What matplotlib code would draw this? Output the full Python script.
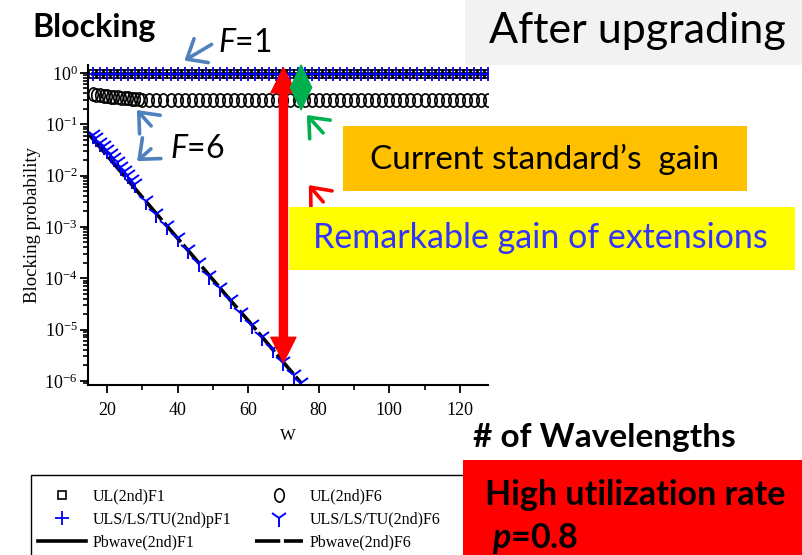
import numpy as np
import matplotlib
matplotlib.use('Agg')
import matplotlib.pyplot as plt
from matplotlib.markers import MarkerStyle
from matplotlib.transforms import Affine2D
from matplotlib.patches import Rectangle, Polygon, FancyArrowPatch
from matplotlib.ticker import LogLocator, NullFormatter

plt.rcParams['font.family'] = 'Liberation Serif'
plt.rcParams['mathtext.fontset'] = 'custom'
plt.rcParams['mathtext.rm'] = 'Liberation Serif'

# wavelengths
w_f1 = np.arange(16, 129, 2)
w_ul_f6 = np.r_[np.arange(16, 31), np.arange(32, 129, 2)]
w_uls_f6 = np.r_[np.arange(16, 29), np.arange(31, 74, 3), [75]]
w_pb_f6 = np.arange(15, 76, 5)

# F=1 curves (all near 1)
ul_f1 = [0.95, 0.95, 0.95, 0.95, 0.95, 0.95, 0.95, 0.95, 0.95, 0.95, 0.95, 0.95,
         0.95, 0.95, 0.95, 0.95, 0.95, 0.95, 0.95, 0.95, 0.95, 0.95, 0.95, 0.95,
         0.95, 0.95, 0.95, 0.95, 0.95, 0.95, 0.95, 0.95, 0.95, 0.95, 0.95, 0.95,
         0.95, 0.95, 0.95, 0.95, 0.95, 0.95, 0.95, 0.95, 0.95, 0.95, 0.95, 0.95,
         0.95, 0.95, 0.95, 0.95, 0.95, 0.95, 0.95, 0.95, 0.95]
uls_f1 = [0.97, 0.97, 0.97, 0.97, 0.97, 0.97, 0.97, 0.97, 0.97, 0.97, 0.97, 0.97,
          0.97, 0.97, 0.97, 0.97, 0.97, 0.97, 0.97, 0.97, 0.97, 0.97, 0.97, 0.97,
          0.97, 0.97, 0.97, 0.97, 0.97, 0.97, 0.97, 0.97, 0.97, 0.97, 0.97, 0.97,
          0.97, 0.97, 0.97, 0.97, 0.97, 0.97, 0.97, 0.97, 0.97, 0.97, 0.97, 0.97,
          0.97, 0.97, 0.97, 0.97, 0.97, 0.97, 0.97, 0.97, 0.97]
pb_f1 = [0.96, 0.96, 0.96, 0.96, 0.96, 0.96, 0.96, 0.96, 0.96, 0.96, 0.96, 0.96,
         0.96, 0.96, 0.96, 0.96, 0.96, 0.96, 0.96, 0.96, 0.96, 0.96, 0.96, 0.96,
         0.96, 0.96, 0.96, 0.96, 0.96, 0.96, 0.96, 0.96, 0.96, 0.96, 0.96, 0.96,
         0.96, 0.96, 0.96, 0.96, 0.96, 0.96, 0.96, 0.96, 0.96, 0.96, 0.96, 0.96,
         0.96, 0.96, 0.96, 0.96, 0.96, 0.96, 0.96, 0.96, 0.96]

# F=6 curves
ul_f6 = [0.39, 0.38, 0.37, 0.36, 0.35, 0.345, 0.34, 0.335, 0.33, 0.325, 0.32, 0.315,
         0.31, 0.305, 0.30,
         0.30, 0.30, 0.30, 0.30, 0.30, 0.30, 0.30, 0.30, 0.30, 0.30, 0.30, 0.30,
         0.30, 0.30, 0.30, 0.30, 0.30, 0.30, 0.30, 0.30, 0.30, 0.30, 0.30, 0.30,
         0.30, 0.30, 0.30, 0.30, 0.30, 0.30, 0.30, 0.30, 0.30, 0.30, 0.30, 0.30,
         0.30, 0.30, 0.30, 0.30, 0.30, 0.30, 0.30, 0.30, 0.30, 0.30, 0.30, 0.30,
         0.30]
uls_f6 = [0.063, 0.054, 0.044, 0.038, 0.032, 0.026, 0.022, 0.018, 0.015, 0.0123,
          0.0102, 0.0083, 0.0069,
          0.0032, 0.0018, 1.05e-3, 6.0e-4, 3.5e-4, 2.0e-4, 1.12e-4, 6.5e-5,
          3.7e-5, 2.1e-5, 1.23e-5, 7.1e-6, 4.1e-6, 2.3e-6, 1.32e-6, 9.1e-7]
pb_f6 = [0.062, 0.0245, 0.0097, 0.0038, 1.5e-3, 6.0e-4, 2.4e-4, 9.4e-5, 3.7e-5,
         1.5e-5, 5.9e-6, 2.3e-6, 9.1e-7]

FW, FH = 803, 555


def fx(x, y):
    # pixel position (from top-left) -> figure fraction
    return x / FW, 1 - y / FH


fig = plt.figure(figsize=(8.03, 5.55), dpi=100)
ax = fig.add_axes([88 / FW, 1 - 385 / FH, 400 / FW, 320 / FH])

circle = MarkerStyle('o', transform=Affine2D().scale(0.72, 1.0))

l_pb1, = ax.plot(w_f1, pb_f1, color='black', lw=2.6, label='Pbwave(2nd)F1')
l_pb6, = ax.plot(w_pb_f6, pb_f6, color='black', lw=2.6, dashes=(7.0, 1.0),
                 label='Pbwave(2nd)F6')
l_ul1, = ax.plot(w_f1, ul_f1, ls='none', marker='s', ms=6, mfc='none',
                 mec='black', mew=1.2, label='UL(2nd)F1')
l_ul6, = ax.plot(w_ul_f6, ul_f6, ls='none', marker=circle, ms=9.5, mfc='none',
                 mec='black', mew=1.2, label='UL(2nd)F6')
l_uls1, = ax.plot(w_f1, uls_f1, ls='none', marker='+', ms=10.5, mec='blue',
                  mew=1.3, label='ULS/LS/TU(2nd)pF1')
l_uls6, = ax.plot(w_uls_f6, uls_f6, ls='none', marker='1', ms=13, mec='blue',
                  mew=1.4, label='ULS/LS/TU(2nd)F6')

ax.set_yscale('log')
ax.set_xlim(14.6, 128)
ax.set_ylim(8.3e-7, 1.43)
for s in ['top', 'right']:
    ax.spines[s].set_visible(False)
for s in ['left', 'bottom']:
    ax.spines[s].set_linewidth(1.5)
ax.set_xticks([20, 40, 60, 80, 100, 120])
ax.set_xticks([30, 50, 70, 90, 110], minor=True)
ax.set_yticks([1e-6, 1e-5, 1e-4, 1e-3, 1e-2, 1e-1, 1])
ax.yaxis.set_minor_locator(LogLocator(base=10, subs=np.arange(2, 10), numticks=12))
ax.yaxis.set_minor_formatter(NullFormatter())
ax.tick_params(which='major', direction='out', length=6, width=1.3, labelsize=13)
ax.tick_params(which='minor', direction='out', length=3.5, width=1.2)
ax.tick_params(axis='x', pad=6)
ax.tick_params(axis='y', pad=1.5)
ax.set_xlabel('W', fontsize=12, labelpad=7)
ax.set_ylabel('Blocking probability', fontsize=13.5, labelpad=2)

# gain arrows
red_style = 'simple,head_length=1.0,head_width=1.0,tail_width=0.32'
ax.annotate('', xy=(70, 1.26), xytext=(70, 2e-3),
            arrowprops=dict(arrowstyle=red_style, color='red', shrinkA=0,
                            shrinkB=0, mutation_scale=18),
            annotation_clip=False)
ax.annotate('', xy=(70, 2.3e-6), xytext=(70, 2e-3),
            arrowprops=dict(arrowstyle=red_style, color='red', shrinkA=0,
                            shrinkB=0, mutation_scale=18),
            annotation_clip=False)
ax.add_patch(Polygon([(75, 10 ** 0.156), (78, 0.52), (75, 0.19), (72, 0.52)],
                     closed=True, color='#00B050', clip_on=False, zorder=5))

sans = 'Lato'
plt.rcParams['mathtext.it'] = 'Lato:italic'
plt.rcParams['mathtext.bf'] = 'Lato:bold:italic'


def pointer(tail, head, color):
    fig.add_artist(FancyArrowPatch(
        fx(*tail), fx(*head), transform=fig.transFigure,
        arrowstyle='->,head_length=0.6,head_width=0.5', mutation_scale=20,
        color=color, lw=2.6))


pointer((214, 43), (182, 62), '#4F81BD')
pointer((153, 128), (135, 108), '#4F81BD')
pointer((153, 147), (135, 163), '#4F81BD')
pointer((325, 135), (305, 113), '#00B050')
pointer((325, 204), (307, 183), 'red')

fig.text(*fx(32, 28), 'Blocking', fontsize=23, fontweight='bold', family=sans,
         va='center', ha='left')
fig.text(*fx(218, 43), r'$\mathit{F}$=1', fontsize=23, family=sans, va='center',
         ha='left')
fig.text(*fx(170, 149), r'$\mathit{F}$=6', fontsize=23, family=sans, va='center',
         ha='left')


def box(x0, y0, x1, y1, color, z=6):
    fig.add_artist(Rectangle(fx(x0, y1), (x1 - x0) / FW, (y1 - y0) / FH,
                             transform=fig.transFigure, facecolor=color,
                             edgecolor='none', zorder=z))


box(465, 0, 803, 65, '#F2F2F2')
fig.text(*fx(637, 31), 'After upgrading', fontsize=31, family=sans,
         ha='center', va='center', zorder=7)
box(343, 126, 747, 191, '#FFC000')
fig.text(*fx(544, 159), 'Current standard\u2019s  gain', fontsize=24, family=sans,
         ha='center', va='center', zorder=7)
box(289, 207, 795, 270, '#FFFF00')
fig.text(*fx(540, 238), 'Remarkable gain of extensions', fontsize=24.5, family=sans,
         color='#3333FF', ha='center', va='center', zorder=7)
fig.text(*fx(473, 438), '# of Wavelengths', fontsize=24, family=sans,
         fontweight='bold', ha='left', va='center', zorder=7)

# legend with an open frame running off the bottom edge
fig.add_artist(Rectangle(fx(31, 575), 460 / FW, 100 / FH, transform=fig.transFigure,
                         facecolor='none', edgecolor='black', lw=1.0, zorder=4))
fig.legend(handles=[l_ul1, l_uls1, l_pb1, l_ul6, l_uls6, l_pb6], ncol=2,
           loc='upper left', bbox_to_anchor=fx(24, 474), frameon=False,
           fontsize=11.5, handlelength=3.0, columnspacing=1.5, labelspacing=0.45,
           handletextpad=0.4)

box(463, 460, 803, 560, '#FF0000', z=8)
fig.text(*fx(485, 495), 'High utilization rate', fontsize=24.5, family=sans,
         fontweight='bold', ha='left', va='center', zorder=9)
fig.text(*fx(492, 538), r'$\mathbf{p}$=0.8', fontsize=24.5, family=sans,
         fontweight='bold', ha='left', va='center', zorder=9)

fig.savefig('out.png', dpi=100)
